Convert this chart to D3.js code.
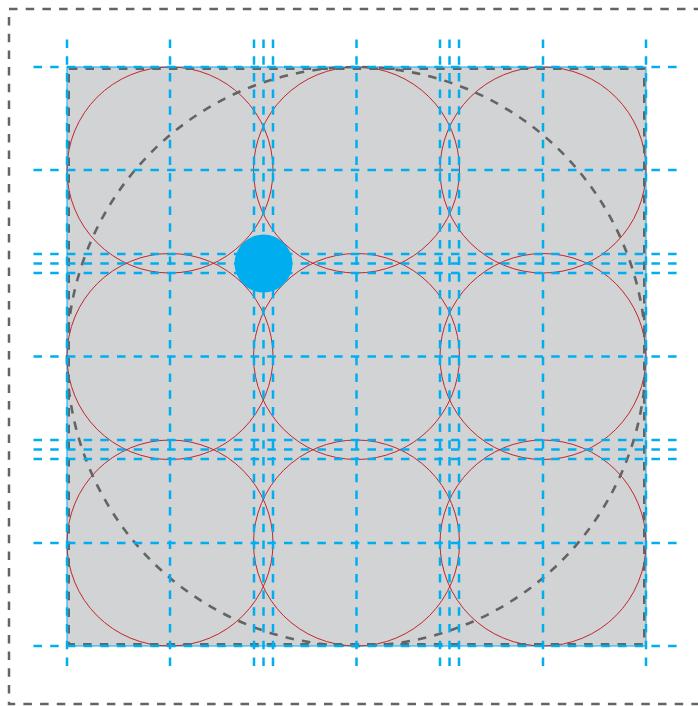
<!DOCTYPE html>
<html>
<head>
<meta charset="utf-8">
<script src="https://cdn.jsdelivr.net/npm/d3@7"></script>
<style>
  html, body { margin: 0; padding: 0; background: #ffffff; }
  svg { display: block; }
</style>
</head>
<body>
<svg id="chart" width="698" height="706"></svg>
<script>
// ---- data (layout units; square side = 579) ----
const squareExtent = [0, 579];
const circleCentersX = [103, 289.5, 476];
const circleCentersY = [103, 289.5, 476];
const circleRadius = [103];
const guideLinesX = [0, 103, 187, 196.5, 206, 289.5, 373, 382.5, 392, 476, 579];
const guideLinesY = [0, 103, 187, 196.5, 206, 289.5, 373, 382.5, 392, 476, 579];
const guideSpanX = [-33.5, 613];
const guideSpanY = [-27.5, 606];
const bigCircle = [289.5, 289.5, 289.5]; // cx, cy, r
const blueDot = [196.5, 196.5, 29];      // cx, cy, r
const frameX = [-58, 633];
const frameY = [-58, 637];

const svg = d3.select("#chart");
const x = d3.scaleLinear().domain(squareExtent).range([67, 646]);
const y = d3.scaleLinear().domain(squareExtent).range([67, 646]);
const len = v => x(v) - x(0);

const DASH = "8.5,8.2";
const GRAY = "#636466";
const BLUE = "#00aeef";

// outer dashed frame
svg.append("rect")
  .attr("x", x(frameX[0])).attr("y", y(frameY[0]))
  .attr("width", x(frameX[1]) - x(frameX[0]))
  .attr("height", y(frameY[1]) - y(frameY[0]))
  .attr("fill", "none").attr("stroke", GRAY)
  .attr("stroke-width", 2.5).attr("stroke-dasharray", DASH);

// gray square
svg.append("rect")
  .attr("x", x(squareExtent[0])).attr("y", y(squareExtent[0]))
  .attr("width", len(squareExtent[1])).attr("height", len(squareExtent[1]))
  .attr("fill", "#d1d3d4").attr("stroke", BLUE).attr("stroke-width", 1);

// 3x3 circles
const cells = [];
circleCentersY.forEach(cy => circleCentersX.forEach(cx => cells.push({cx, cy})));
svg.append("g").selectAll("circle").data(cells).join("circle")
  .attr("cx", d => x(d.cx)).attr("cy", d => y(d.cy))
  .attr("r", len(circleRadius[0]))
  .attr("fill", "none").attr("stroke", "#c1272d").attr("stroke-width", 1);

// big dashed circle
svg.append("circle")
  .attr("cx", x(bigCircle[0])).attr("cy", y(bigCircle[1])).attr("r", len(bigCircle[2]))
  .attr("fill", "none").attr("stroke", GRAY)
  .attr("stroke-width", 2.6).attr("stroke-dasharray", DASH);

// square dashed border
svg.append("rect")
  .attr("x", x(squareExtent[0]) + 1.8).attr("y", y(squareExtent[0]) + 1.8)
  .attr("width", len(squareExtent[1]) - 3.6).attr("height", len(squareExtent[1]) - 3.6)
  .attr("fill", "none").attr("stroke", GRAY)
  .attr("stroke-width", 2.4).attr("stroke-dasharray", DASH);

// blue guide lines
const g = svg.append("g").attr("stroke", BLUE).attr("stroke-width", 2.5)
  .attr("stroke-dasharray", DASH);
g.selectAll("line.h").data(guideLinesY).join("line").attr("class", "h")
  .attr("x1", x(guideSpanX[0])).attr("x2", x(guideSpanX[1]))
  .attr("y1", d => y(d)).attr("y2", d => y(d));
g.selectAll("line.v").data(guideLinesX).join("line").attr("class", "v")
  .attr("y1", y(guideSpanY[0])).attr("y2", y(guideSpanY[1]))
  .attr("x1", d => x(d)).attr("x2", d => x(d));

// blue dot
svg.append("circle")
  .attr("cx", x(blueDot[0])).attr("cy", y(blueDot[1])).attr("r", len(blueDot[2]))
  .attr("fill", BLUE);
</script>
</body>
</html>
